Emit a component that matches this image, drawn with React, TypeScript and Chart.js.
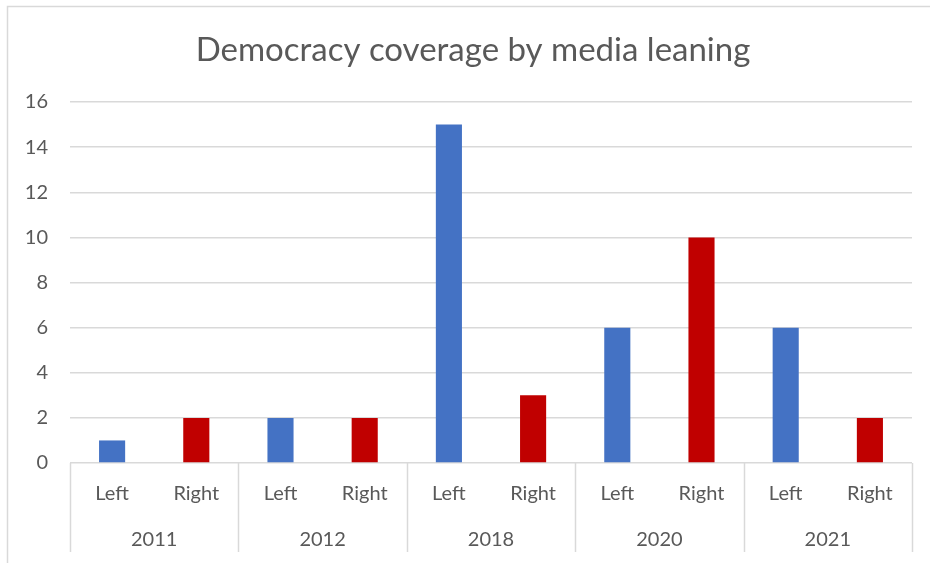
import React, { useEffect, useRef } from "react";
import { Chart, registerables } from "chart.js";

Chart.register(...registerables);

const title = "Democracy coverage by media leaning";
const years = ["2011", "2012", "2018", "2020", "2021"];
const leanings = ["Left", "Right"];
const leftValues = [1, 2, 15, 6, 6];
const rightValues = [2, 2, 3, 10, 2];
const yMin = 0;
const yMax = 16;
const yStep = 2;

const LEFT_COLOR = "#4472C4";
const RIGHT_COLOR = "#C00000";
const TEXT_COLOR = "#595959";
const LINE_COLOR = "#D9D9D9";
const FONT = "Lato, 'Open Sans', sans-serif";

const labels: string[] = [];
const values: number[] = [];
const colors: string[] = [];
years.forEach((_, i) => {
  labels.push(leanings[0]);
  values.push(leftValues[i]);
  colors.push(LEFT_COLOR);
  labels.push(leanings[1]);
  values.push(rightValues[i]);
  colors.push(RIGHT_COLOR);
});

const decorPlugin = {
  id: "decor",
  beforeDraw(chart: any) {
    const ctx = chart.ctx;
    ctx.save();
    ctx.fillStyle = "#ffffff";
    ctx.fillRect(0, 0, chart.width, chart.height);
    ctx.strokeStyle = LINE_COLOR;
    ctx.lineWidth = 1.5;
    ctx.beginPath();
    ctx.moveTo(7.5, chart.height + 2);
    ctx.lineTo(7.5, 6.5);
    ctx.lineTo(chart.width + 2, 6.5);
    ctx.stroke();
    ctx.restore();
  },
  afterDraw(chart: any) {
    const ctx = chart.ctx;
    const xs = chart.scales.x;
    const area = chart.chartArea;
    const per = leanings.length;
    const bounds: number[] = [];
    for (let g = 0; g <= years.length; g++) {
      if (g === 0) bounds.push(area.left);
      else if (g === years.length) bounds.push(area.right);
      else {
        const i = g * per;
        bounds.push((xs.getPixelForValue(i - 1) + xs.getPixelForValue(i)) / 2);
      }
    }
    ctx.save();
    ctx.strokeStyle = LINE_COLOR;
    ctx.lineWidth = 1.5;
    bounds.forEach((bx) => {
      const px = Math.round(bx) + 0.5;
      ctx.beginPath();
      ctx.moveTo(px, area.bottom);
      ctx.lineTo(px, area.bottom + 89);
      ctx.stroke();
    });
    ctx.fillStyle = TEXT_COLOR;
    ctx.font = `20px ${FONT}`;
    ctx.textAlign = "center";
    ctx.textBaseline = "alphabetic";
    years.forEach((y, g) => {
      ctx.fillText(y, (bounds[g] + bounds[g + 1]) / 2, area.bottom + 83);
    });
    ctx.font = `33px ${FONT}`;
    ctx.fillText(title, 473, 61);
    ctx.restore();
  },
};

export default function App() {
  const ref = useRef<HTMLCanvasElement | null>(null);
  useEffect(() => {
    if (!ref.current) return;
    const chart = new Chart(ref.current, {
      type: "bar",
      data: {
        labels,
        datasets: [
          {
            data: values,
            backgroundColor: colors,
            borderWidth: 0,
            barPercentage: 0.31,
            categoryPercentage: 1,
          },
        ],
      },
      plugins: [decorPlugin],
      options: {
        responsive: false,
        animation: false,
        devicePixelRatio: 1,
        layout: { padding: { left: 0, right: 18, top: 102, bottom: 0 } },
        plugins: {
          legend: { display: false },
          title: { display: false },
          tooltip: { enabled: false },
        },
        scales: {
          x: {
            grid: { display: false, drawTicks: false },
            border: { display: false },
            ticks: {
              autoSkip: false,
              maxRotation: 0,
              minRotation: 0,
              padding: 19,
              color: TEXT_COLOR,
              font: { family: FONT, size: 20 },
            },
            afterFit(scale: any) {
              scale.height = 100;
            },
          },
          y: {
            min: yMin,
            max: yMax,
            ticks: {
              stepSize: yStep,
              padding: 22,
              color: TEXT_COLOR,
              font: { family: FONT, size: 20 },
            },
            grid: { color: LINE_COLOR, lineWidth: 1.5, drawTicks: false },
            border: { display: false },
            afterFit(scale: any) {
              scale.width = 70;
            },
          },
        },
      },
    });
    return () => chart.destroy();
  }, []);
  return (
    <div style={{ position: "absolute", left: 0, top: 0, width: 930, height: 563 }}>
      <canvas ref={ref} width={930} height={563} />
    </div>
  );
}
